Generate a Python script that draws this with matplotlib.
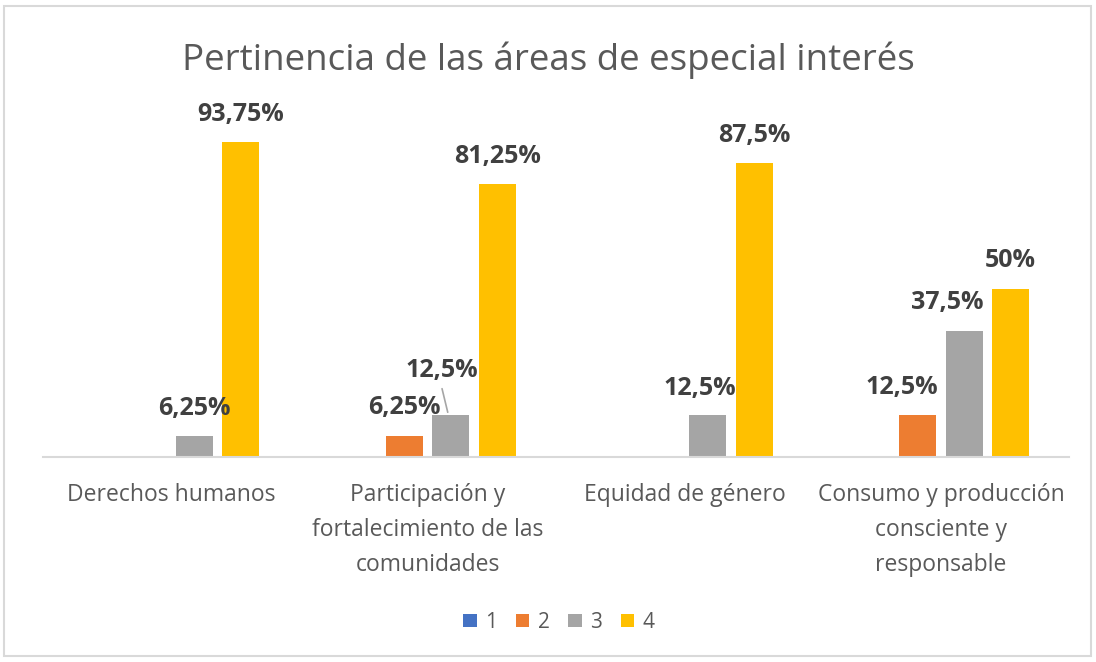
import matplotlib
matplotlib.use("Agg")
from matplotlib import pyplot as plt
from matplotlib.patches import Rectangle
import numpy as np

plt.rcParams["font.family"] = ["Open Sans", "DejaVu Sans"]

categorias = ["Derechos humanos", "Participación y\nfortalecimiento de las\ncomunidades",
              "Equidad de género", "Consumo y producción\nconsciente y\nresponsable"]
series = ["1", "2", "3", "4"]
valores = {
    "1": [0, 0, 0, 0],
    "2": [0, 6.25, 0, 12.5],
    "3": [6.25, 12.5, 12.5, 37.5],
    "4": [93.75, 81.25, 87.5, 50],
}
etiquetas = {
    "1": [None, None, None, None],
    "2": [None, "6,25%", None, "12,5%"],
    "3": ["6,25%", "12,5%", "12,5%", "37,5%"],
    "4": ["93,75%", "81,25%", "87,5%", "50%"],
}
colores = ["#4472C4", "#ED7D31", "#A5A5A5", "#FFC000"]

# desplazamiento de etiquetas (px): (dx, dy) respecto al tope de la barra
despl = {
    ("2", 1): (0, 22), ("2", 3): (-16, 21),
    ("3", 0): (0, 21), ("3", 1): (-9, 38), ("3", 2): (-8, 20), ("3", 3): (-17, 22),
    ("4", 0): (0, 21), ("4", 1): (0, 21), ("4", 2): (0, 21), ("4", 3): (0, 22),
}

fig = plt.figure(figsize=(10.96, 6.62), dpi=100)
ax = fig.add_axes([0.039, 0.3097, 0.9367, 0.5076])

x = np.arange(len(categorias))
ancho = 0.144
paso = 0.181
k = 0.72  # px -> pt

for i, s in enumerate(series):
    pos = x + (i - 1.5) * paso
    ax.bar(pos, valores[s], width=ancho, color=colores[i], label=s, zorder=2)
    for j, et in enumerate(etiquetas[s]):
        if et is None:
            continue
        dx, dy = despl[(s, j)]
        ax.annotate(et, xy=(pos[j], valores[s][j]), xytext=(dx * k, dy * k),
                    textcoords="offset points", ha="center", va="baseline",
                    fontsize=18, fontweight="bold", color="#404040")
        if (s, j) == ("3", 1):
            ax.annotate("", xy=(pos[j] - 0.01, valores[s][j]), xytext=(-7 * k, 29 * k),
                        textcoords="offset points",
                        arrowprops=dict(arrowstyle="-", color="#A6A6A6", lw=1.2))

ax.set_xlim(-0.5, 3.5)
ax.set_ylim(0, 100)
ax.set_xticks(x)
ax.set_xticklabels(categorias, fontsize=16.5, color="#595959", linespacing=1.6)
ax.tick_params(axis="x", length=0, pad=19)
ax.set_yticks([])
for lado in ["top", "right", "left"]:
    ax.spines[lado].set_visible(False)
ax.spines["bottom"].set_color("#D9D9D9")
ax.spines["bottom"].set_linewidth(1.5)

fig.suptitle("Pertinencia de las áreas de especial interés", y=0.909, va="center",
             fontsize=26.5, color="#595959")

fig.legend(loc="center", bbox_to_anchor=(0.51, 0.06), ncol=4, frameon=False,
           fontsize=15, labelcolor="#595959", handlelength=0.65, handleheight=0.65,
           handletextpad=0.4, columnspacing=0.9)

fig.patches.append(Rectangle((4 / 1096, 6 / 662), 1087 / 1096, 650 / 662,
                             transform=fig.transFigure, fill=False,
                             edgecolor="#D9D9D9", linewidth=1.5))

fig.savefig("out.png", dpi=100)
